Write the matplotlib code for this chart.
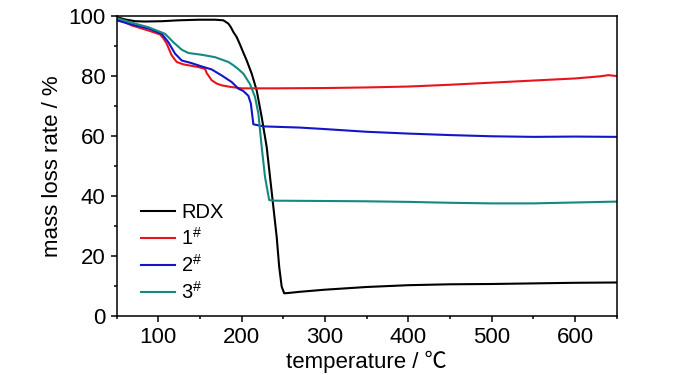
import matplotlib
matplotlib.use("Agg")
import matplotlib.pyplot as plt
from matplotlib.ticker import MultipleLocator

# TG curves
rdx_t = [50, 60, 72, 84, 104, 124, 148, 168, 178, 184, 187, 190, 194, 198, 202, 206,
         212, 218, 224, 230, 234, 238, 242, 245, 248, 251, 256, 270, 300, 350, 400,
         450, 500, 550, 600, 650]
rdx_v = [99.7, 98.9, 98.3, 98.2, 98.3, 98.6, 98.8, 98.8, 98.6, 97.5, 96.3, 94.7, 93.0,
         90.5, 87.8, 85.2, 80.8, 75.2, 66.3, 56.3, 46.3, 36.3, 26.3, 16.3, 9.7, 7.5,
         7.6, 8.0, 8.7, 9.6, 10.2, 10.5, 10.6, 10.8, 11.0, 11.1]

s1_t = [50, 68, 88, 102, 106, 110, 116, 122, 130, 148, 156, 158, 160, 164, 170, 176,
        186, 200, 240, 300, 350, 400, 450, 500, 550, 600, 630, 640, 650]
s1_v = [99.2, 96.9, 95.2, 93.9, 92.6, 90.8, 86.9, 84.7, 83.9, 83.0, 82.4, 81.0, 80.2,
        78.6, 77.5, 76.9, 76.4, 75.9, 75.9, 76.0, 76.2, 76.5, 77.1, 77.8, 78.5, 79.2,
        79.9, 80.3, 80.0]

s2_t = [50, 68, 88, 104, 112, 120, 128, 140, 152, 164, 176, 188, 196, 202, 208, 211,
        214, 226, 270, 300, 350, 400, 450, 500, 550, 600, 650]
s2_v = [98.6, 97.2, 95.9, 94.1, 91.3, 87.5, 85.2, 84.3, 83.2, 82.2, 80.2, 78.0, 75.8,
        75.0, 73.4, 70.8, 63.9, 63.2, 62.8, 62.3, 61.4, 60.8, 60.3, 59.9, 59.7, 59.8,
        59.7]

s3_t = [50, 68, 88, 108, 118, 128, 136, 152, 168, 184, 190, 196, 202, 210, 216, 220,
        224, 228, 233, 240, 300, 350, 400, 450, 500, 550, 600, 650]
s3_v = [99.4, 97.8, 96.3, 94.1, 91.3, 88.8, 87.7, 87.1, 86.3, 84.7, 83.6, 82.3, 80.8,
        77.3, 73.0, 67.5, 56.3, 46.3, 38.6, 38.4, 38.3, 38.2, 38.0, 37.7, 37.5, 37.5,
        37.8, 38.1]

labels = ["RDX", r"1$^{\#}$", r"2$^{\#}$", r"3$^{\#}$"]
colors = ["#000000", "#e8141c", "#1414c8", "#138a80"]

plt.rcParams["font.family"] = ["Liberation Sans", "Noto Sans CJK SC"]
plt.rcParams["mathtext.fontset"] = "custom"
plt.rcParams["mathtext.rm"] = "Liberation Sans"
plt.rcParams["mathtext.it"] = "Liberation Sans"

fig = plt.figure(figsize=(7, 3.75), dpi=100)
ax = fig.add_axes([0.1667, 0.158, 0.7143, 0.799])

series = [(rdx_t, rdx_v), (s1_t, s1_v), (s2_t, s2_v), (s3_t, s3_v)]
for (t, v), lab, c in zip(series, labels, colors):
    ax.plot(t, v, color=c, lw=1.5, label=lab)

ax.set_xlim(50, 650)
ax.set_ylim(0, 100)
ax.xaxis.set_major_locator(MultipleLocator(100))
ax.xaxis.set_minor_locator(MultipleLocator(50))
ax.yaxis.set_major_locator(MultipleLocator(20))
ax.yaxis.set_minor_locator(MultipleLocator(10))
ax.tick_params(which="major", direction="out", length=4.5, width=1.1, labelsize=16)
ax.tick_params(which="minor", direction="out", length=2.5, width=1.1)
for sp in ax.spines.values():
    sp.set_linewidth(1.1)

ax.set_xlabel("temperature / \u2103", fontsize=16, labelpad=2)
ax.set_ylabel("mass loss rate / %", fontsize=16, labelpad=4)

ax.legend(loc="lower left", bbox_to_anchor=(0.02, -0.005), frameon=False, fontsize=14.5,
          handlelength=1.7, handletextpad=0.3, labelspacing=0.25, borderpad=0.2)

fig.savefig("out.png", dpi=100)
